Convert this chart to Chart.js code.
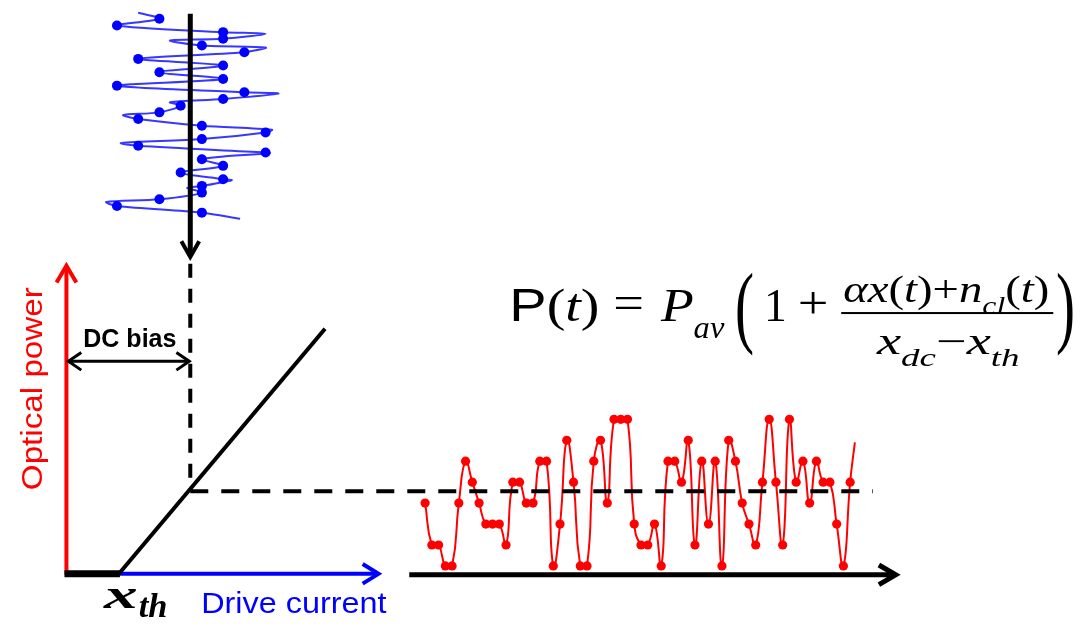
<!DOCTYPE html>
<html>
<head>
<meta charset="utf-8">
<script src="https://cdn.jsdelivr.net/npm/chart.js@4.4.0/dist/chart.umd.min.js"></script>
<style>
  html, body { margin: 0; padding: 0; background: #fff; }
  #wrap { width: 1087px; height: 630px; }
</style>
</head>
<body>
<div id="wrap"><canvas id="c"></canvas></div>
<script>
// output (red) signal: quantised level 0..7 per sample
const redLevels = [3,1,1,0,0,3,5,4,3,2, 2,2,1,4,4,3,3,5,5,0,
                   2,6,4,0,0,5,6,3,7,7, 7,2,1,1,2,0,5,5,4,6,
                   1,5,2,5,0,6,5,3,2,1, 4,7,4,1,7,4,5,3,5,4,
                   4,2,0,4];
// the red trace keeps going a little past the last sample
const redTailTime = 63.7;
const redTailLevel = 5.9;

// input (blue) signal: quantised level per sample, time runs downwards
const blueLevels = [2,0,5,5,4,6,1,5,2,5, 0,6,5,3,2,1,4,7,4,1,
                    7,4,5,3,5,4,4,2,0,4];
// blue trace incl. the overshoot turning points seen between samples
const blueTraceLevel = [1.0, 2, 0, 5, 7.0, 5, 2.5, 4, 7.0, 6, 1, 5, 2, 5, 0, 6, 7.6, 5, 2.5, 3,
                        2, 0.3, 1, 4, 7.3, 7, 4, 0.2, 1, 7, 7.2, 4, 5, 3, 5, 5.4, 4, 3.3, 4, 2,
                        -0.5, 0, 4, 5.8];
const blueTraceTime  = [-0.9, 0, 1, 2, 2.25, 3, 3.25, 4, 4.3, 5, 6, 7, 8, 9, 10, 11, 11.2, 12, 12.5, 13,
                        14, 14.4, 15, 16, 16.6, 17, 18, 18.6, 19, 20, 20.1, 21, 22, 23, 24, 24.15, 25, 25.3, 26, 27,
                        27.4, 28, 29, 29.9];

const W = 1087, H = 630;

// value range for a hidden axis so that v0 lands on pixel p0 and v1 on p1
function span(p0, v0, p1, v1, len) {
    const k = (p1 - p0) / (v1 - v0);
    const a = v0 - p0 / k, b = v0 + (len - p0) / k;
    return { min: Math.min(a, b), max: Math.max(a, b) };
}

const rx = span(424, 0, 853, 63, W);
const ry = span(570, 0, 421, 7, H);
const bx = span(113, 0, 263, 7, W);
const by = span(14, 0, 211, 29, H);

function pts(list) { return list.map(p => ({ x: p[0], y: p[1] })); }

function shape(list, color, width, dash) {
    return {
        data: pts(list), showLine: true, borderColor: color, borderWidth: width,
        borderDash: dash || [], pointRadius: 0, tension: 0, fill: false,
        borderJoinStyle: 'miter', xAxisID: 'x', yAxisID: 'y'
    };
}

const BLACK = '#000', RED = '#ff0000', BLUE = '#0000ff';

const datasets = [
    // index 0 is drawn on top
    shape([[187, 9], [187, 254]], BLACK, 5),
    shape([[178, 240], [187, 256], [196, 240]], BLACK, 4),
    shape([[187, 263], [187, 494]], BLACK, 4, [14, 11]),
    shape([[187, 494], [876, 494]], BLACK, 4, [18, 13]),
    shape([[60, 578], [116, 578]], BLACK, 7),
    shape([[115, 578], [323, 329]], BLACK, 4),
    shape([[64, 362], [186, 362]], BLACK, 3),
    shape([[77, 353], [64, 362], [77, 371]], BLACK, 3),
    shape([[173, 353], [186, 362], [173, 371]], BLACK, 3),
    shape([[408, 579], [897, 579]], BLACK, 5),
    shape([[882, 569], [899, 579], [882, 589]], BLACK, 5),
    shape([[62, 579], [62, 266]], RED, 4),
    shape([[52, 282], [62, 265], [72, 282]], RED, 4),
    shape([[115, 578], [375, 578]], BLUE, 4),
    shape([[361, 568], [377, 578], [361, 588]], BLUE, 4),
    {
        data: blueLevels.map((v, i) => ({ x: v, y: i })),
        showLine: false, pointRadius: 5, pointBackgroundColor: BLUE,
        pointBorderWidth: 0, xAxisID: 'bx', yAxisID: 'by'
    },
    {
        data: blueTraceLevel.map((v, i) => ({ x: v, y: blueTraceTime[i] })),
        showLine: true, borderColor: 'rgba(20,20,255,0.85)', borderWidth: 2,
        pointRadius: 0, tension: 0.3, xAxisID: 'bx', yAxisID: 'by'
    },
    {
        data: redLevels.map((v, i) => ({ x: i, y: v })).concat([{ x: redTailTime, y: redTailLevel }]),
        showLine: true, borderColor: RED, borderWidth: 2, tension: 0.5,
        pointRadius: c => c.dataIndex < redLevels.length ? 4.6 : 0,
        pointBackgroundColor: RED, pointBorderWidth: 0,
        xAxisID: 'rx', yAxisID: 'ry'
    }
];

// text: squeeze a run of pieces between left and right on a baseline
const MATH = '"Liberation Serif", "DejaVu Serif", serif';
const SANS = '"Liberation Sans", Arial, sans-serif';

// styles: r roman, i italic, b bold, s subscript, sans, bsans
function pieceFont(p, size) {
    const s = p[1] || 'r';
    if (s === 'sans') return size + 'px ' + SANS;
    if (s === 'bsans') return 'bold ' + size + 'px ' + SANS;
    const sz = s.indexOf('s') >= 0 ? size * 0.68 : size;
    const italic = s.indexOf('i') >= 0 ? 'italic ' : '';
    const bold = s.indexOf('b') >= 0 ? 'bold ' : '';
    return italic + bold + sz + 'px ' + MATH;
}

function isSub(p) {
    return p[1] && p[1] !== 'sans' && p[1] !== 'bsans' && p[1].indexOf('s') >= 0;
}

function run(ctx, pieces, left, right, base, size) {
    let total = 0;
    const widths = pieces.map(p => {
        ctx.font = pieceFont(p, size);
        const w = ctx.measureText(p[0]).width;
        total += w;
        return w;
    });
    ctx.save();
    ctx.translate(left, base);
    ctx.scale((right - left) / total, 1);
    let x = 0;
    pieces.forEach((p, i) => {
        ctx.font = pieceFont(p, size);
        ctx.fillText(p[0], x, isSub(p) ? size * 0.3 : 0);
        x += widths[i];
    });
    ctx.restore();
}

// big bracket: a normal size glyph stretched tall, so the stroke stays thin
function bracket(ctx, text, x0, y0, y1) {
    ctx.font = '44px ' + MATH;
    const m = ctx.measureText(text);
    const h = m.actualBoundingBoxAscent + m.actualBoundingBoxDescent;
    const k = (y1 - y0) / h, kx = 1.3;
    ctx.save();
    ctx.translate(x0 + m.actualBoundingBoxLeft * kx, y0 + m.actualBoundingBoxAscent * k);
    ctx.scale(kx, k);
    ctx.fillText(text, 0, 0);
    ctx.restore();
}

const labels = {
    id: 'labels',
    afterDraw(chart) {
        const ctx = chart.ctx;
        const sx = chart.scales.x, sy = chart.scales.y;
        const X = v => sx.getPixelForValue(v), Y = v => sy.getPixelForValue(v);
        ctx.save();
        ctx.textBaseline = 'alphabetic';
        ctx.textAlign = 'left';

        // axis labels
        ctx.fillStyle = RED;
        ctx.save();
        ctx.translate(X(37), Y(493));
        ctx.rotate(-Math.PI / 2);
        run(ctx, [['Optical power', 'sans']], 0, 203, 0, 29);
        ctx.restore();

        ctx.fillStyle = BLUE;
        run(ctx, [['Drive current', 'sans']], X(198), X(385), Y(618), 29);

        ctx.fillStyle = BLACK;
        run(ctx, [['DC bias', 'bsans']], X(79), X(173), Y(348), 25);

        // x_th under the threshold
        run(ctx, [['x', 'bi']], X(100), X(134), Y(613), 42);
        run(ctx, [['th', 'bi']], X(135), X(164), Y(622), 34);

        // P(t) = P_av (1 + (a x(t) + n_cl(t)) / (x_dc - x_th))
        run(ctx, [['P', 'sans'], ['(', 'r'], ['t', 'i'], [')', 'r']], X(509), X(600), Y(321), 46);
        run(ctx, [['=', 'r']], X(614), X(645), Y(318), 46);
        run(ctx, [['P', 'i']], X(662), X(695), Y(321), 46);
        run(ctx, [['av', 'i']], X(695), X(726), Y(338), 32);
        bracket(ctx, '(', X(738), Y(271), Y(358));
        run(ctx, [['1', 'r']], X(766), X(789), Y(321), 46);
        run(ctx, [['+', 'r']], X(800), X(831), Y(318), 46);
        run(ctx, [['α', 'i'], ['x', 'i'], ['(', 'r'], ['t', 'i'], [')', 'r'], ['+', 'r'],
                  ['n', 'i'], ['cl', 'is'], ['(', 'r'], ['t', 'i'], [')', 'r']],
            X(846), X(1054), Y(302), 38);
        ctx.fillRect(X(844), Y(312), X(1058) - X(844), 2);
        run(ctx, [['x', 'i'], ['dc', 'is'], ['−', 'r'], ['x', 'i'], ['th', 'is']],
            X(880), X(1024), Y(355), 38);
        bracket(ctx, ')', X(1062), Y(271), Y(358));
        ctx.restore();
    }
};

const hidden = r => Object.assign({ type: 'linear', display: false }, r);

new Chart(document.getElementById('c'), {
    type: 'scatter',
    data: { datasets },
    options: {
        responsive: true,
        maintainAspectRatio: false,
        animation: false,
        events: [],
        layout: { padding: 0 },
        plugins: { legend: { display: false }, tooltip: { enabled: false } },
        scales: {
            x: hidden({ min: 0, max: W }),
            y: hidden({ min: 0, max: H, reverse: true }),
            rx: hidden(Object.assign({ axis: 'x' }, rx)),
            ry: hidden(Object.assign({ axis: 'y' }, ry)),
            bx: hidden(Object.assign({ axis: 'x' }, bx)),
            by: hidden(Object.assign({ axis: 'y', reverse: true }, by))
        }
    },
    plugins: [labels]
});
</script>
</body>
</html>
